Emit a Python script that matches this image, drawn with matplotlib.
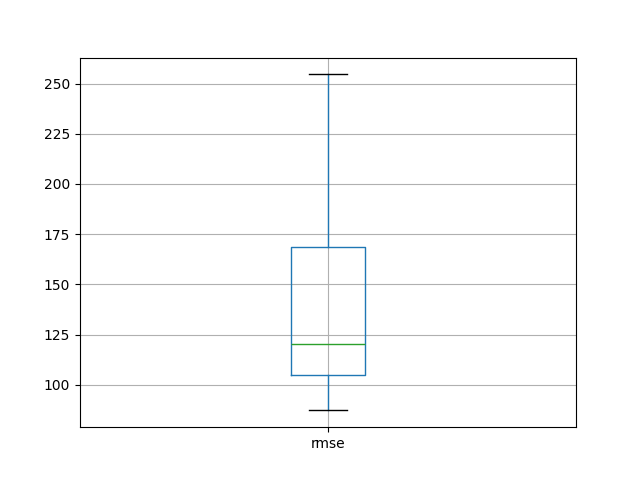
import pandas as pd
import matplotlib
matplotlib.use('Agg')
import matplotlib.pyplot as plt

# значения rmse (мин, Q1, медиана, Q3, макс)
rmse = [87.2, 104.6, 120.1, 168.4, 254.6]

df = pd.DataFrame({'rmse': rmse})

fig, ax = plt.subplots(figsize=(6.4, 4.8), dpi=100)
df.boxplot(column=['rmse'], ax=ax)
fig.savefig('out.png')
